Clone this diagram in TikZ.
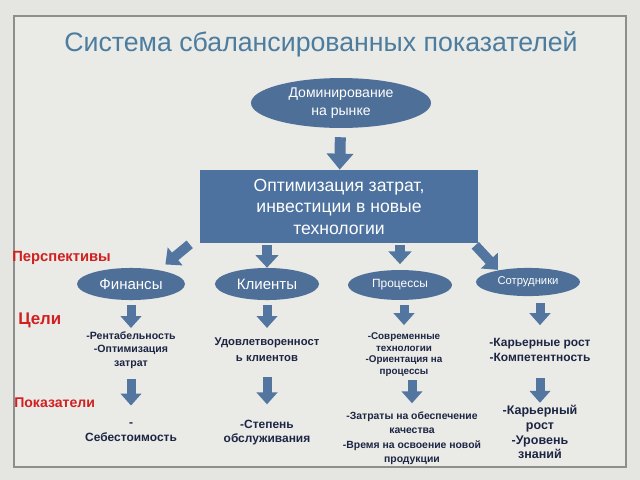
\documentclass[tikz,border=0pt]{standalone}
\usepackage{fontspec}
\setmainfont{Liberation Sans}
\usetikzlibrary{shapes.geometric,arrows.meta,calc}

\definecolor{slidegray}{HTML}{E5E5E1}
\definecolor{framefill}{HTML}{EAEAE6}
\definecolor{framegray}{HTML}{8E8E8C}
\definecolor{titleblue}{HTML}{4C7C9E}
\definecolor{ovalblue}{HTML}{4E6F98}
\definecolor{boxblue}{HTML}{4D72A0}
\definecolor{arrowblue}{HTML}{5376A0}
\definecolor{labelred}{HTML}{D02020}
\definecolor{navy}{HTML}{1C2543}

\newcommand{\sizefont}[2]{\fontsize{#1}{#2}\selectfont\bfseries}

\begin{document}
\begin{tikzpicture}[x=0.025cm,y=-0.025cm,
    oval/.style={ellipse, fill=ovalblue, text=white, inner sep=0pt, align=center},
    bigarrow/.style={draw=arrowblue, line width=7.8pt, -{Triangle[width=18.5pt,length=11.4pt]}},
    midarrow/.style={draw=arrowblue, line width=7pt, -{Triangle[width=16pt,length=9pt]}},
    smallarrow/.style={draw=arrowblue, line width=6.4pt, -{Triangle[width=14.5pt,length=8.5pt]}},
    rowlabel/.style={anchor=west, text=labelred, inner sep=0pt},
    item/.style={anchor=north, align=center, text=navy, inner sep=1pt,
      execute at begin node=\strut, execute at end node=\strut}
  ]

  % slide and frame
  \fill[slidegray] (0,0) rectangle (640,480);
  \useasboundingbox (0,0) rectangle (640,480);
  \draw[framegray, line width=1.1pt, fill=framefill] (14,16) rectangle (626,467);

  \node[text=titleblue, font=\fontsize{19}{23}\selectfont] (title) at (321,44)
    {Система сбалансированных показателей};

  % top of the tree
  \node[oval, minimum width=128pt, minimum height=35.5pt,
    font=\fontsize{10}{12.5}\selectfont] (dom) at (341,103) {Доминирование\\на рынке};
  \node[fill=boxblue, text=white, minimum width=197.7pt, minimum height=52pt,
    inner sep=0pt, align=center, font=\fontsize{12.5}{15.3}\selectfont] (box) at (339,206.5)
    {Оптимизация затрат,\\инвестиции в новые\\технологии};

  % perspectives
  \node[oval, minimum width=76.8pt, minimum height=22.8pt,
    font=\fontsize{10.7}{12}\selectfont] (fin) at (131,284) {Финансы};
  \node[oval, minimum width=74pt, minimum height=22.8pt,
    font=\fontsize{10.7}{12}\selectfont] (kli) at (267,284) {Клиенты};
  \node[oval, minimum width=74pt, minimum height=21.3pt,
    font=\fontsize{8.5}{10}\selectfont] (proc) at (400,285) {Процессы};
  \node[oval, minimum width=74pt, minimum height=20pt,
    font=\fontsize{8}{10}\selectfont] (sot) at (528,282) {Сотрудники};

  % row labels
  \node[rowlabel, font=\fontsize{10.5}{12}\selectfont\bfseries] (lblpersp) at (12,258) {Перспективы};
  \node[rowlabel, font=\fontsize{12}{14}\selectfont\bfseries] (lblgoal) at (18,320) {Цели};
  \node[rowlabel, font=\fontsize{10}{12}\selectfont\bfseries] (lblmet) at (14,403) {Показатели};

  % goals
  \node[item, font=\sizefont{7.5}{9.6}] (fingoal) at (131,330)
    {-Рентабельность\\-Оптимизация\\затрат};
  \node[item, font=\sizefont{8}{11.4}] (kligoal) at (267,336)
    {Удовлетворенност\\ь клиентов};
  \node[item, font=\sizefont{7}{8.3}] (procgoal) at (404,331)
    {-Современные\\технологии\\-Ориентация на\\процессы};
  \node[item, font=\sizefont{8.5}{10.7}] (sotgoal) at (540,336.4)
    {-Карьерные рост\\-Компетентность};

  % metrics
  \node[item, font=\sizefont{8.5}{10.7}] (finmet) at (131,421)
    {-\\Себестоимость};
  \node[item, font=\sizefont{8.5}{10}] (klimet) at (267,418)
    {-Степень\\обслуживания};
  \node[item, font=\sizefont{7.4}{10.2}] (procmet) at (412,410)
    {-Затраты на обеспечение\\качества\\-Время на освоение новой\\продукции};
  \node[item, font=\sizefont{8.9}{10.5}] (sotmet) at (540,403.5)
    {-Карьерный\\рост\\-Уровень\\знаний};

  % arrows
  \draw[bigarrow, shorten <=6.4pt] (dom) -- (box);

  \draw[midarrow] ($(box.south west)+(-10,1)$) -- ($(fin.north east)+(-4,-8)$);
  \draw[midarrow, shorten <=1.4pt] (box.south -| kli) -- (kli.north);
  \draw[midarrow, shorten <=1.4pt, shorten >=4pt] (box.south -| proc) -- (proc.north);
  \draw[midarrow] ($(box.south east)+(-3,2)$) -- ($(sot.north west)+(7,-2)$);

  \draw[smallarrow, shorten <=3.5pt, shorten >=1.4pt] (fin) -- (fingoal);
  \draw[smallarrow, shorten <=3.5pt, shorten >=5.7pt] (kli) -- (kligoal);
  \draw[smallarrow, shorten <=3.5pt, shorten >=4.2pt] (procgoal.north |- proc.south) -- (procgoal.north);
  \draw[smallarrow, shorten <=5pt, shorten >=8pt] (sotgoal.north |- sot.south) -- (sotgoal.north);

  \draw[smallarrow, shorten <=5pt, shorten >=11pt] (fingoal) -- (finmet);
  \draw[smallarrow, shorten <=6.5pt, shorten >=9.7pt] (kligoal) -- (klimet);
  \draw[smallarrow, shorten <=0pt, shorten >=4.8pt] (procmet.north |- procgoal.south) -- (procmet.north);
  \draw[smallarrow, shorten <=7.5pt, shorten >=0.5pt] (sotgoal) -- (sotmet);
\end{tikzpicture}
\end{document}
